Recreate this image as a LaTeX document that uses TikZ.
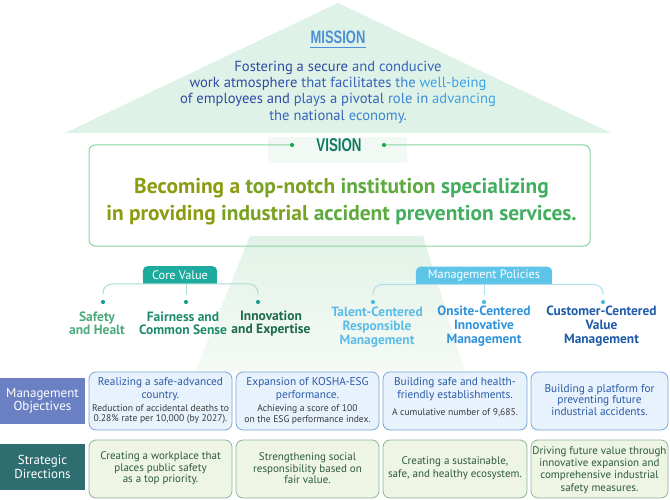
\documentclass[tikz,border=0pt]{standalone}
\usepackage{fontspec}
\setmainfont{PT Sans}
\newfontfamily\condfont[FakeStretch=0.72]{Liberation Sans}
\definecolor{tri}{HTML}{DFF2E7}
\definecolor{trunkA}{HTML}{E2F2E7}
\definecolor{trunkB}{HTML}{F5FAF5}
\definecolor{vpale}{HTML}{F2F9F4}
\definecolor{mtitle}{HTML}{4B8FD6}
\definecolor{mA}{HTML}{2F4BA5}
\definecolor{mB}{HTML}{3563B9}
\definecolor{mC}{HTML}{3A84D2}
\definecolor{mD}{HTML}{3BA3E8}
\definecolor{vborder}{HTML}{8AD4A3}
\definecolor{vlabel}{HTML}{0F7A63}
\definecolor{vdot}{HTML}{1FAA4F}
\definecolor{vA}{HTML}{8C9C10}
\definecolor{vB}{HTML}{7AA221}
\definecolor{vC}{HTML}{5EAA3E}
\definecolor{vD}{HTML}{42AE5F}
\definecolor{cvtag}{HTML}{1CAB9C}
\definecolor{cvline}{HTML}{A9DDD6}
\definecolor{cvdot}{HTML}{17A28F}
\definecolor{cvtA}{HTML}{4DAA7C}
\definecolor{cvtB}{HTML}{1E8C6C}
\definecolor{cvtC}{HTML}{1C6A4C}
\definecolor{mptag}{HTML}{5EC4E8}
\definecolor{mpline}{HTML}{ABDFF0}
\definecolor{mpdot}{HTML}{4CB9E2}
\definecolor{mptA}{HTML}{5BBDE7}
\definecolor{mptB}{HTML}{2F92DA}
\definecolor{mptC}{HTML}{1F5BA8}
\definecolor{objlab}{HTML}{6B80C2}
\definecolor{strlab}{HTML}{2E6E70}
\definecolor{objfill}{HTML}{E7F2FC}
\definecolor{objborder}{HTML}{7AA5D8}
\definecolor{objtitle}{HTML}{2B5BA8}
\definecolor{objsub}{HTML}{3A3A3A}
\definecolor{strfill}{HTML}{EEF5E5}
\definecolor{strborder}{HTML}{8DB59A}
\definecolor{strtext}{HTML}{2B5A3C}
\tikzset{
  txt/.style={inner sep=0pt, align=center},
  tagbox/.style={inner sep=0pt, minimum height=17.5pt, text=white, font=\fontsize{12.3}{12.3}\selectfont},
  dotc/.style={circle, inner sep=0pt, minimum size=4.2pt},
  valtxt/.style={txt, font=\bfseries\fontsize{13.5}{13.3}\selectfont},
  poltxt/.style={txt, font=\bfseries\fontsize{13.4}{14}\selectfont},
  sidelab/.style={inner sep=0pt, minimum width=85pt, minimum height=46pt, text=white, align=center, font=\fontsize{13}{13.3}\selectfont},
  objbox/.style={draw=objborder, fill=objfill, line width=0.8pt, rounded corners=7pt, inner sep=0pt, minimum height=58pt},
  strbox/.style={draw=strborder, fill=strfill, line width=0.8pt, rounded corners=7pt, inner sep=0pt, minimum height=58pt},
  objt/.style={txt, text=objtitle, font=\fontsize{11.3}{13.4}\selectfont},
  objs/.style={txt, text=objsub, font=\fontsize{9.6}{10.3}\selectfont},
  strt/.style={txt, text=strtext, font=\fontsize{11}{11.6}\selectfont},
}
\begin{document}
\begin{tikzpicture}[x=1pt,y=-1pt]
\useasboundingbox (0,0) rectangle (670,500);
% mission triangle
\fill[tri] (65,133) -- (338,3) -- (611,133) -- cycle;
% vision box fill
\fill[white, rounded corners=6pt] (89,145) rectangle (590,246);
% trunk
\shade[top color=trunkA, bottom color=trunkB] (250,236) -- (423,236) -- (465,372) -- (195,372) -- cycle;
\fill[vpale] (268,137) rectangle (407,163);
\draw[vborder, line width=1pt, rounded corners=6pt] (292,145) -- (89,145) -- (89,246) -- (590,246) -- (590,145) -- (384,145);
\node[dotc, fill=vdot] (vd1) at (292,145) {};
\node[dotc, fill=vdot] (vd2) at (384,145) {};
% mission
\node[inner sep=0pt, text=mtitle, font=\condfont\bfseries\fontsize{18}{18}\selectfont] (mis) at (338,37) {MISSION};
\draw[mtitle, line width=1.6pt] ([yshift=-4pt]mis.south west) -- ([yshift=-4pt]mis.south east);
\node[txt, font=\fontsize{14.6}{16.4}\selectfont] (mtext) at (338,92) {%
\textcolor{mA}{Fostering a secure} \textcolor{mB}{and conducive}\\
\textcolor{mA}{work atmosphere} \textcolor{mB}{that facilitates} \textcolor{mC}{the} \textcolor{mD}{well-being}\\
\textcolor{mA}{of employees and} \textcolor{mB}{plays a pivotal} \textcolor{mC}{role in} \textcolor{mD}{advancing}\\
\textcolor{mB}{the national} \textcolor{mC}{economy.}};
% vision
\node[inner sep=0pt, text=vlabel, font=\condfont\bfseries\fontsize{18.5}{18.5}\selectfont] (vis) at (339,145) {VISION};
\node[txt, font=\bfseries\fontsize{21.4}{27}\selectfont] (vtext) at (341.5,202) {%
\textcolor{vA}{Becoming a} \textcolor{vB}{top-notch} \textcolor{vC}{institution} \textcolor{vD}{specializing}\\
\textcolor{vA}{in providing} \textcolor{vB}{industrial} \textcolor{vC}{accident} \textcolor{vD}{prevention services.}};
% core value
\node[tagbox, minimum width=74pt] (cv) at (180,275) {Core Value};
\fill[cvtag, rounded corners=5pt] (cv.south west) rectangle (cv.north east);
\fill[cvtag] (cv.west) rectangle (cv.south east);
\node[tagbox, minimum width=74pt] at (cv.center) {Core Value};
\node[dotc, fill=cvdot] (cv1) at (103,302) {};
\node[dotc, fill=cvdot] (cv2) at (186,302) {};
\node[dotc, fill=cvdot] (cv3) at (258,302) {};
\draw[cvline, line width=1pt, rounded corners=9pt, shorten >=5pt] (cv.south) -| (cv1);
\draw[cvline, line width=1pt, rounded corners=9pt, shorten >=5pt] (cv.south) -| (cv3);
\draw[cvline, line width=1pt, shorten >=5pt] (cv2 |- cv.south) -- (cv2);
\node[valtxt, text=cvtA] (cvt1) at (97,323.5) {Safety\\and Healt};
\node[valtxt, text=cvtB] (cvt2) at (183,323.5) {Fairness and\\Common Sense};
\node[valtxt, text=cvtC] (cvt3) at (271,323.5) {Innovation\\and Expertise};
% management policies
\node[tagbox, minimum width=136pt] (mp) at (484,275.5) {Management Policies};
\fill[mptag, rounded corners=5pt] (mp.south west) rectangle (mp.north east);
\fill[mptag] (mp.west) rectangle (mp.south east);
\node[tagbox, minimum width=136pt] at (mp.center) {Management Policies};
\node[dotc, fill=mpdot] (mp1) at (373,302) {};
\node[dotc, fill=mpdot] (mp2) at (484,302) {};
\node[dotc, fill=mpdot] (mp3) at (603,302) {};
\draw[mpline, line width=1pt, rounded corners=9pt, shorten >=5pt] (mp.south) -| (mp1);
\draw[mpline, line width=1pt, rounded corners=9pt, shorten >=5pt] (mp.south) -| (mp3);
\draw[mpline, line width=1pt, shorten >=5pt] (mp.south) -- (mp2);
\node[poltxt, text=mptA] (mpt1) at (377,327) {Talent-Centered\\Responsible\\Management};
\node[poltxt, text=mptB] (mpt2) at (484,326) {Onsite-Centered\\Innovative\\Management};
\node[poltxt, text=mptC] (mpt3) at (601.5,326) {Customer-Centered\\Value\\Management};
% side labels
\node[sidelab, fill=objlab] (mo) at (42.5,401) {Management\\Objectives};
\node[sidelab, fill=strlab] (sd) at (42.5,467) {Strategic\\Directions};
% objective boxes
\node[objbox, minimum width=143pt] (ob1) at (160.5,401) {};
\node[objbox, minimum width=143pt] (ob2) at (307.5,401) {};
\node[objbox, minimum width=144pt] (ob3) at (455,401) {};
\node[objbox, minimum width=137pt] (ob4) at (599.5,401) {};
\node[objt] (ob1t) at (160.5,389) {Realizing a safe-advanced\\country.};
\node[objs] (ob1s) at (160.5,414.5) {Reduction of accidental deaths to\\0.28\% rate per 10,000 (by 2027).};
\node[objt] (ob2t) at (307.5,389) {Expansion of KOSHA-ESG\\performance.};
\node[objs] (ob2s) at (307.5,414.5) {Achieving a score of 100\\on the ESG performance index.};
\node[objt] (ob3t) at (455,389) {Building safe and health-\\friendly establishments.};
\node[objs] (ob3s) at (455,413) {A cumulative number of 9,685.};
\node[objt, font=\fontsize{11.3}{11.8}\selectfont] (ob4t) at (599.5,400) {Building a platform for\\preventing future\\industrial accidents.};
% strategy boxes
\node[strbox, minimum width=143pt] (st1) at (160.5,469) {};
\node[strbox, minimum width=143pt] (st2) at (307.5,469) {};
\node[strbox, minimum width=144pt] (st3) at (455,469) {};
\node[strbox, minimum width=137pt] (st4) at (599.5,469) {};
\node[strt] (st1t) at (160.5,468.5) {Creating a workplace that\\places public safety\\as a top priority.};
\node[strt] (st2t) at (307.5,468.5) {Strengthening social\\responsibility based on\\fair value.};
\node[strt, font=\fontsize{11}{13}\selectfont] (st3t) at (455,468.5) {Creating a sustainable,\\safe, and healthy ecosystem.};
\node[strt, font=\fontsize{11}{12.2}\selectfont] (st4t) at (599.5,470) {Driving future value through\\innovative expansion and\\comprehensive industrial\\safety measures.};
\end{tikzpicture}
\end{document}
